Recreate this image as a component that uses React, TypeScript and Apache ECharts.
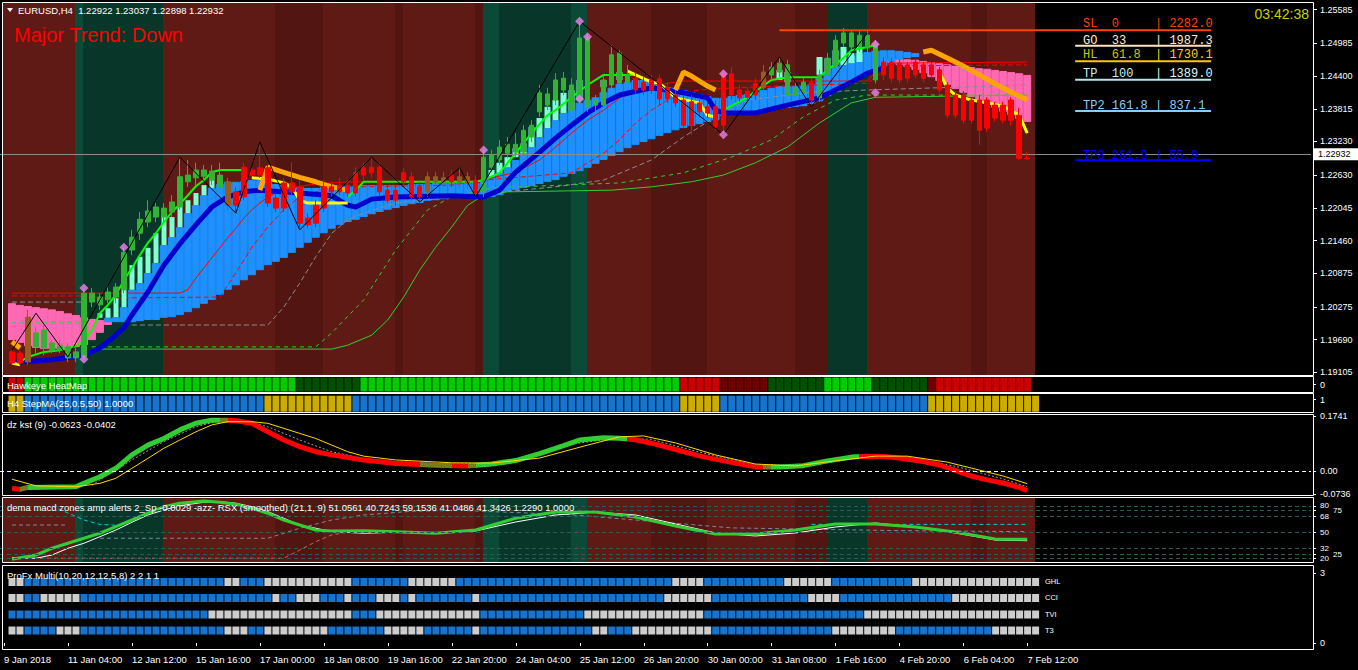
import React, { useEffect, useRef } from "react";
import * as echarts from "echarts";

const FONT = "'Liberation Sans', Arial, sans-serif";
const MONO = "'Liberation Mono', 'DejaVu Sans Mono', monospace";
const NCAT = 164;

// ---------- axes ----------
const timeTickBars = [-1, 7, 15, 23, 31, 39, 47, 55, 63, 71, 79, 87, 95, 103, 111, 119, 127];
const timeTickLabels = ["9 Jan 2018", "11 Jan 04:00", "12 Jan 12:00", "15 Jan 16:00", "17 Jan 00:00", "18 Jan 08:00", "19 Jan 16:00", "22 Jan 20:00", "24 Jan 04:00", "25 Jan 12:00", "26 Jan 20:00", "30 Jan 00:00", "31 Jan 08:00", "1 Feb 16:00", "4 Feb 20:00", "6 Feb 04:00", "7 Feb 12:00"];
const priceTicks = [1.25585, 1.24985, 1.244, 1.23815, 1.2323, 1.2263, 1.22045, 1.2146, 1.20875, 1.20275, 1.1969, 1.19105];
const priceMin = 1.19057;
const priceMax = 1.25705;
const lastOHLC = [1.22922, 1.23037, 1.22898, 1.22932];
const lastPrice = 1.22932;

// ---------- candles [open, close, low, high] ----------
const candles = [
  [1.1947, 1.1927, 1.1924, 1.195], [1.1945, 1.1927, 1.1924, 1.195], [1.1929, 1.2009, 1.1924, 1.2022], [1.1956, 1.1981, 1.1945, 1.1991],
  [1.1954, 1.1986, 1.1941, 1.1995], [1.195, 1.1963, 1.1945, 1.1968], [1.195, 1.1959, 1.1945, 1.1968], [1.1936, 1.1956, 1.1929, 1.1963],
  [1.1936, 1.1947, 1.1929, 1.1954], [1.1938, 1.2052, 1.1933, 1.2058], [1.2036, 1.2052, 1.2027, 1.2061], [1.2031, 1.2045, 1.2022, 1.2052],
  [1.204, 1.2054, 1.2034, 1.2066], [1.2045, 1.2063, 1.2034, 1.207], [1.2058, 1.2125, 1.2052, 1.2134], [1.2129, 1.2152, 1.212, 1.2165],
  [1.2159, 1.2184, 1.2147, 1.2197], [1.2179, 1.2199, 1.217, 1.2218], [1.2188, 1.2206, 1.2179, 1.2213], [1.2188, 1.2204, 1.2179, 1.2213],
  [1.2197, 1.2215, 1.2188, 1.2227], [1.2206, 1.226, 1.2201, 1.2295], [1.2251, 1.2263, 1.2242, 1.229], [1.2258, 1.2272, 1.2245, 1.2285],
  [1.2261, 1.2272, 1.2254, 1.2281], [1.2254, 1.227, 1.2245, 1.2281], [1.2242, 1.2263, 1.2236, 1.2285], [1.2251, 1.2209, 1.2201, 1.2258],
  [1.2233, 1.2209, 1.2195, 1.2242], [1.2277, 1.2224, 1.2218, 1.2285], [1.2272, 1.2263, 1.2258, 1.2281], [1.2276, 1.2263, 1.2258, 1.2322],
  [1.2276, 1.2213, 1.2206, 1.2281], [1.2222, 1.2204, 1.2197, 1.2231], [1.2249, 1.2204, 1.2197, 1.2258], [1.2249, 1.2233, 1.2227, 1.2286],
  [1.2242, 1.2177, 1.2168, 1.2254], [1.2186, 1.2174, 1.2168, 1.2195], [1.2209, 1.2177, 1.217, 1.2218], [1.2242, 1.2204, 1.2197, 1.2254],
  [1.2242, 1.2233, 1.2224, 1.2251], [1.2245, 1.2233, 1.2227, 1.2258], [1.2245, 1.2231, 1.2224, 1.2254], [1.2268, 1.2231, 1.2224, 1.2277],
  [1.2276, 1.2263, 1.2254, 1.2285], [1.2277, 1.2267, 1.2258, 1.2295], [1.2277, 1.2233, 1.2224, 1.2285], [1.2236, 1.2218, 1.2213, 1.2245],
  [1.2236, 1.2218, 1.2209, 1.2245], [1.2267, 1.2251, 1.2242, 1.2276], [1.226, 1.2224, 1.2218, 1.2268], [1.2242, 1.2224, 1.2215, 1.2251],
  [1.2233, 1.226, 1.2224, 1.2268], [1.2251, 1.226, 1.2242, 1.2268], [1.2251, 1.2258, 1.2242, 1.2268], [1.2263, 1.2251, 1.2242, 1.2272],
  [1.2251, 1.226, 1.224, 1.2276], [1.2249, 1.226, 1.224, 1.2268], [1.2254, 1.2231, 1.2224, 1.2263], [1.2233, 1.2295, 1.2224, 1.2306],
  [1.2277, 1.2299, 1.2268, 1.2308], [1.229, 1.2313, 1.2281, 1.2326], [1.2302, 1.2318, 1.2293, 1.2331], [1.2304, 1.2318, 1.2295, 1.2338],
  [1.2304, 1.2343, 1.2295, 1.2352], [1.2331, 1.2352, 1.2322, 1.2361], [1.2376, 1.241, 1.2367, 1.2424], [1.2388, 1.2408, 1.2379, 1.2419],
  [1.2397, 1.2433, 1.2388, 1.2445], [1.2415, 1.2436, 1.2406, 1.2447], [1.2379, 1.2424, 1.237, 1.2436], [1.2397, 1.2508, 1.2392, 1.2538],
  [1.2385, 1.2508, 1.2376, 1.2513], [1.2388, 1.2397, 1.2374, 1.2406], [1.2388, 1.2433, 1.2379, 1.2442], [1.2424, 1.2478, 1.2415, 1.2495],
  [1.2427, 1.2481, 1.242, 1.2486], [1.2429, 1.2442, 1.2424, 1.246], [1.2436, 1.2415, 1.2408, 1.2447], [1.2429, 1.2415, 1.2406, 1.2438],
  [1.2433, 1.2415, 1.2408, 1.2442], [1.2435, 1.2399, 1.2388, 1.2442], [1.242, 1.2399, 1.2392, 1.2429], [1.2406, 1.2392, 1.2385, 1.2415],
  [1.2397, 1.2352, 1.2347, 1.2406], [1.2394, 1.2352, 1.2335, 1.2406], [1.2392, 1.2376, 1.2367, 1.2401], [1.2385, 1.2374, 1.2365, 1.2394],
  [1.2385, 1.2349, 1.2343, 1.2397], [1.2445, 1.2352, 1.2338, 1.2451], [1.2444, 1.2406, 1.2397, 1.2456], [1.2415, 1.2401, 1.2394, 1.2424],
  [1.2413, 1.2402, 1.2397, 1.242], [1.2427, 1.2406, 1.2397, 1.2436], [1.2419, 1.2447, 1.2411, 1.246], [1.2442, 1.2456, 1.2433, 1.2465],
  [1.2447, 1.2463, 1.2438, 1.2474], [1.2406, 1.246, 1.2397, 1.2469], [1.2406, 1.242, 1.2401, 1.2429], [1.2411, 1.2429, 1.2402, 1.2436],
  [1.2429, 1.2397, 1.2385, 1.2436], [1.2401, 1.2442, 1.2394, 1.2451], [1.2442, 1.2472, 1.2436, 1.2481], [1.2456, 1.2504, 1.2447, 1.2513],
  [1.2499, 1.2517, 1.2492, 1.2526], [1.2492, 1.2517, 1.2486, 1.2522], [1.2492, 1.2513, 1.2483, 1.2522], [1.249, 1.2513, 1.2481, 1.2522],
  [1.2433, 1.2497, 1.2427, 1.2504], [1.2465, 1.2442, 1.2433, 1.2474], [1.2465, 1.2436, 1.2429, 1.2472], [1.2463, 1.2433, 1.2427, 1.2469],
  [1.246, 1.2436, 1.2429, 1.2465], [1.2465, 1.2442, 1.2436, 1.2469], [1.246, 1.2436, 1.2429, 1.2465], [1.246, 1.2442, 1.2436, 1.2465],
  [1.2451, 1.2415, 1.241, 1.2456], [1.2424, 1.237, 1.2365, 1.2429], [1.2406, 1.237, 1.2365, 1.2413], [1.2406, 1.2361, 1.2355, 1.2413],
  [1.2397, 1.2361, 1.2355, 1.2402], [1.2397, 1.2343, 1.2317, 1.2406], [1.2397, 1.2347, 1.234, 1.2402], [1.2388, 1.2365, 1.2358, 1.2394],
  [1.2388, 1.2361, 1.2355, 1.2394], [1.2397, 1.2361, 1.2352, 1.2402], [1.237, 1.2293, 1.229, 1.2383], [1.22922, 1.22932, 1.22898, 1.23037],
];
const candleColorRuns: [string, number][] = [["r", 2], ["b", 1], ["g", 24], ["b", 1], ["r", 24], ["b", 3], ["r", 1], ["b", 2], ["r", 1], ["g", 19], ["r", 16], ["b", 1], ["g", 5], ["r", 1], ["g", 8], ["r", 19]];

// ---------- cloud bands [bar, top, bottom] ----------
const pinkCloud = [
  [0, 1.2034, 1.1968], [1, 1.2031, 1.1963], [2, 1.2029, 1.1957], [3, 1.2027, 1.1954], [4, 1.2025, 1.1952], [5, 1.2023, 1.1952], [6, 1.202, 1.1952],
  [7, 1.2016, 1.1954], [8, 1.2013, 1.1956], [9, 1.2009, 1.1959], [10, 1.2006, 1.1968], [11, 1.2004, 1.1981], [12, 1.2002, 1.1995],
  [110, 1.2472, 1.2463], [111, 1.2472, 1.246], [112, 1.247, 1.2456], [113, 1.2469, 1.2451], [114, 1.2467, 1.2445], [115, 1.2465, 1.2438],
  [116, 1.2463, 1.2431], [117, 1.2461, 1.2424], [118, 1.246, 1.2417], [119, 1.2458, 1.241], [120, 1.2456, 1.2402], [121, 1.2454, 1.2397],
  [122, 1.2453, 1.239], [123, 1.2451, 1.2383], [124, 1.2449, 1.2376], [125, 1.2447, 1.237], [126, 1.2445, 1.2363], [127, 1.2442, 1.2358],
];
const blueCloud = [
  [12, 1.2008, 1.2], [13, 1.2009, 1.2], [14, 1.2027, 1.2], [15, 1.2058, 1.2], [16, 1.207, 1.2002], [17, 1.2088, 1.2004], [18, 1.2106, 1.2004],
  [19, 1.2138, 1.2008], [20, 1.2152, 1.2009], [21, 1.217, 1.2013], [22, 1.2195, 1.2018], [23, 1.2209, 1.2025], [24, 1.2227, 1.2033],
  [25, 1.224, 1.204], [26, 1.2247, 1.2049], [27, 1.2251, 1.2058], [28, 1.2251, 1.2066], [29, 1.2252, 1.2075], [30, 1.2254, 1.2084],
  [31, 1.2254, 1.2093], [32, 1.2251, 1.2102], [33, 1.2247, 1.2108], [34, 1.2245, 1.2115], [35, 1.2242, 1.2124], [36, 1.2242, 1.2133],
  [37, 1.224, 1.2142], [38, 1.224, 1.2151], [39, 1.2242, 1.2159], [40, 1.2242, 1.2167], [41, 1.2243, 1.2174], [42, 1.2243, 1.2179],
  [43, 1.2243, 1.2183], [44, 1.2245, 1.2188], [45, 1.2245, 1.2193], [46, 1.2245, 1.2197], [47, 1.2245, 1.2201], [48, 1.2245, 1.2204],
  [49, 1.2245, 1.2208], [50, 1.2247, 1.2211], [51, 1.2247, 1.2213], [52, 1.2247, 1.2217], [53, 1.2249, 1.2218], [54, 1.2249, 1.222],
  [55, 1.2249, 1.2222], [56, 1.2249, 1.2222], [57, 1.2249, 1.2222], [58, 1.2249, 1.2222], [59, 1.2254, 1.2222], [60, 1.226, 1.2224],
  [61, 1.2267, 1.2227], [62, 1.2277, 1.2233], [63, 1.229, 1.2236], [64, 1.2304, 1.224], [65, 1.2313, 1.2243], [66, 1.2331, 1.2247],
  [67, 1.2347, 1.2251], [68, 1.2361, 1.2254], [69, 1.2374, 1.226], [70, 1.2379, 1.2265], [71, 1.2392, 1.227], [72, 1.2397, 1.2276],
  [73, 1.2402, 1.2283], [74, 1.2411, 1.229], [75, 1.2419, 1.2297], [76, 1.2426, 1.2304], [77, 1.2429, 1.2311], [78, 1.2433, 1.2317],
  [79, 1.2433, 1.2322], [80, 1.2429, 1.2327], [81, 1.2424, 1.2333], [82, 1.242, 1.2338], [83, 1.2419, 1.2343], [84, 1.2415, 1.2347],
  [85, 1.2411, 1.2351], [86, 1.2408, 1.2354], [87, 1.2404, 1.2358], [88, 1.2401, 1.2361], [89, 1.2401, 1.2369], [90, 1.2404, 1.237],
  [91, 1.2406, 1.2372], [92, 1.2408, 1.2374], [93, 1.2411, 1.2376], [94, 1.2415, 1.2377], [95, 1.2419, 1.2379], [96, 1.2422, 1.2381],
  [97, 1.2422, 1.2383], [98, 1.2422, 1.2385], [99, 1.2422, 1.2386], [100, 1.2426, 1.239], [101, 1.2436, 1.2395], [102, 1.2447, 1.2404],
  [103, 1.2458, 1.2411], [104, 1.2469, 1.242], [105, 1.2476, 1.2427], [106, 1.2481, 1.2436], [107, 1.2483, 1.2444], [108, 1.2485, 1.2451],
  [109, 1.2486, 1.2458], [110, 1.2486, 1.2465], [111, 1.2485, 1.2469], [112, 1.2483, 1.2472], [113, 1.2481, 1.2474],
];
const aquaBars = [
  [11, 1.2016, 1.2008], [12, 1.2025, 1.2008], [13, 1.2043, 1.2009], [14, 1.2058, 1.2027], [15, 1.2102, 1.2058], [16, 1.2117, 1.207],
  [17, 1.2133, 1.2088], [18, 1.2159, 1.2106], [19, 1.2188, 1.2138], [20, 1.2188, 1.2152], [21, 1.2206, 1.217], [22, 1.2218, 1.2195],
  [23, 1.2231, 1.2209], [24, 1.2245, 1.2227], [25, 1.2254, 1.224], [60, 1.2272, 1.226], [61, 1.2285, 1.2267], [62, 1.2295, 1.2277],
  [63, 1.2311, 1.2295], [64, 1.232, 1.2302], [65, 1.2349, 1.2313], [66, 1.2365, 1.2331], [67, 1.2385, 1.2347], [68, 1.2397, 1.2361],
  [69, 1.241, 1.2374], [70, 1.2415, 1.2379], [71, 1.2433, 1.2397], [74, 1.2433, 1.242], [76, 1.2447, 1.2433], [96, 1.2451, 1.2433],
  [97, 1.2447, 1.2429], [101, 1.2474, 1.2442], [102, 1.2472, 1.2447], [103, 1.2486, 1.246], [104, 1.2492, 1.246], [105, 1.2481, 1.2463],
  [106, 1.2492, 1.2465],
];

// ---------- indicator lines [bar, price] ----------
const blueMA = [[0, 1.1927], [1, 1.1929], [5, 1.1933], [9, 1.1941], [11, 1.1954], [12, 1.1965], [14, 1.199], [15, 1.2013], [17, 1.2054], [19, 1.2102], [21, 1.214], [23, 1.2174], [25, 1.2206], [27, 1.2224], [29, 1.2233], [31, 1.2236], [36, 1.2231], [40, 1.2226], [42, 1.2209], [43, 1.2206], [45, 1.222], [48, 1.2224], [55, 1.2226], [59, 1.2224], [61, 1.2236], [63, 1.2268], [66, 1.2304], [68, 1.2329], [70, 1.2352], [72, 1.2374], [74, 1.2392], [76, 1.2406], [80, 1.2419], [84, 1.241], [87, 1.2401], [88, 1.2379], [89, 1.2374], [93, 1.2374], [97, 1.2388], [101, 1.2401], [103, 1.2415], [105, 1.2429], [107, 1.2445], [109, 1.2454]];
const redLine = [[0, 1.2052], [21, 1.2052], [22, 1.2058], [23, 1.2079], [24, 1.2097], [25, 1.2115], [26, 1.2133], [27, 1.2151], [28, 1.2168], [29, 1.2186], [30, 1.2201], [31, 1.2213], [32, 1.2224], [33, 1.2231], [34, 1.2236], [36, 1.2243], [38, 1.2247], [42, 1.2251], [58, 1.2251], [60, 1.2258], [63, 1.2268], [66, 1.229], [68, 1.2313], [70, 1.2338], [72, 1.2361], [74, 1.2379], [76, 1.2401], [78, 1.2411], [80, 1.2419], [82, 1.2427], [84, 1.2431], [107, 1.2431], [108, 1.2447], [110, 1.2463], [127, 1.2465]];
const redDash = [[0, 1.2047], [9, 1.2047], [10, 1.2043], [26, 1.2045], [28, 1.2088], [30, 1.2134], [32, 1.217], [34, 1.2201], [36, 1.2224], [38, 1.2233], [40, 1.224], [44, 1.2242], [55, 1.2245], [59, 1.2254], [70, 1.2267], [72, 1.2285], [74, 1.2302], [76, 1.2326], [78, 1.2356], [80, 1.2379], [82, 1.2397], [84, 1.241], [86, 1.2415], [92, 1.242], [107, 1.2427], [110, 1.2458], [127, 1.246]];
const grayDashA = [[0, 1.2036], [9, 1.2036]];
const grayDashB = [[15, 1.1995], [32, 1.1995], [34, 1.2027], [36, 1.207], [38, 1.2117], [40, 1.2159], [42, 1.2183], [44, 1.2195], [48, 1.2213], [55, 1.2224], [68, 1.2242], [74, 1.2254], [80, 1.229], [84, 1.2331], [88, 1.2367], [92, 1.2397], [100, 1.2411], [107, 1.2415], [127, 1.2424]];
const greenDashA = [[0, 1.1999], [9, 1.1999]];
const greenDashB = [[10, 1.1956], [38, 1.1956], [40, 1.1981], [44, 1.204], [48, 1.2129], [52, 1.2201], [55, 1.2224], [60, 1.224], [76, 1.2249], [84, 1.2267], [90, 1.2295], [95, 1.2326], [99, 1.2367], [103, 1.2397], [107, 1.2406], [127, 1.2406]];
const greenThin = [[10, 1.1952], [40, 1.1952], [42, 1.1959], [45, 1.1977], [47, 1.2004], [49, 1.2045], [51, 1.2093], [53, 1.2134], [55, 1.217], [57, 1.2209], [59, 1.2227], [62, 1.2233], [75, 1.2236], [80, 1.2242], [85, 1.2251], [89, 1.2263], [93, 1.2285], [97, 1.2313], [101, 1.2356], [105, 1.2392], [108, 1.2402], [127, 1.2406]];
const zigzag = [[0, 1.195], [3, 1.2016], [7, 1.1938], [21, 1.2295], [28, 1.2195], [31, 1.2322], [36, 1.2165], [45, 1.2295], [51, 1.2215], [56, 1.2276], [58, 1.2224], [71, 1.2538], [89, 1.2335], [96, 1.2474], [100, 1.2385], [107, 1.2517]];
const diamonds = [[9, 1.2061], [9, 1.1934], [14, 1.2134], [59, 1.2308], [71, 1.2538], [71, 1.2399], [72, 1.251], [89, 1.2444], [89, 1.2335], [108, 1.2497], [108, 1.241]];
const limeA = [[1, 1.1929], [2, 1.1938], [4, 1.1947], [6, 1.195], [8, 1.1957], [9, 1.1966], [10, 1.1986], [11, 1.2016], [12, 1.2031], [13, 1.2049], [14, 1.2075], [15, 1.2097], [16, 1.212], [17, 1.2142], [18, 1.2159], [19, 1.2179], [20, 1.2197], [21, 1.2211], [22, 1.2227], [23, 1.2243], [24, 1.2254], [25, 1.2268], [26, 1.2272], [29, 1.2272]];
const limeB = [[42, 1.2224], [43, 1.2236], [44, 1.2251], [58, 1.2251], [59, 1.2254], [61, 1.2267], [62, 1.2285], [63, 1.2302], [65, 1.2338], [67, 1.237], [68, 1.2379], [70, 1.2402], [72, 1.2424], [74, 1.2442], [78, 1.2442]];
const limeC = [[89, 1.2379], [92, 1.2402], [95, 1.2433], [97, 1.2438], [101, 1.2438], [102, 1.2451], [104, 1.2472], [105, 1.2486], [107, 1.2492], [108, 1.2495]];
const yellowA = [[0, 1.1927], [1, 1.1924]];
const yellowB = [[30, 1.2258], [32, 1.2256], [34, 1.2249], [35, 1.2242], [36, 1.2218], [37, 1.2213], [42, 1.2213]];
const yellowC = [[77, 1.2449], [78, 1.2442], [80, 1.2429], [81, 1.2427], [82, 1.2415], [83, 1.2401], [86, 1.2392], [87, 1.237], [88, 1.2367]];
const yellowD = [[116, 1.2447], [117, 1.2419], [118, 1.2406], [120, 1.2397], [122, 1.2392], [124, 1.2386], [126, 1.237], [127, 1.2338]];
const orangeA = [[0, 1.1965], [1, 1.1954]];
const orangeB = [[31, 1.2236], [32, 1.2277], [34, 1.2268], [36, 1.2259], [38, 1.2251], [40, 1.2242], [42, 1.2236]];
const orangeC = [[83, 1.2415], [84, 1.2447], [85, 1.244], [86, 1.2431], [87, 1.2422], [88, 1.2415]];
const orangeD = [[114, 1.2483], [115, 1.2486], [117, 1.2472], [119, 1.2458], [121, 1.2442], [123, 1.2426], [125, 1.2411], [127, 1.2397]];

// ---------- fib levels ----------
const fibNames = ["SL  0     ", "GO  33    ", "HL  61.8  ", "TP  100   ", "TP2 161.8 ", "TP3 261.8 "];
const fibPips = ["2282.0", "1987.3", "1730.1", "1389.0", "837.1", "55.9"];
const fibPrices = [1.25217, 1.24941, 1.24663, 1.24334, 1.23774, 1.22893];

// ---------- background bands ----------
const bandRuns: [string, number][] = [["R", 9], ["L", 1], ["G", 10], ["R", 14], ["D", 6], ["R", 9], ["D", 1], ["R", 9], ["D", 1], ["L", 2], ["G", 9], ["L", 2], ["R", 8], ["D", 7], ["R", 11], ["D", 4], ["G", 5], ["R", 13], ["D", 2], ["R", 6]];

// ---------- sub panels ----------
const heatRuns: [string, number][] = [["R", 2], ["G", 34], ["g", 8], ["G", 40], ["R", 5], ["r", 6], ["g", 7], ["G", 6], ["g", 7], ["r", 1], ["R", 12]];
const stepRuns: [string, number][] = [["Y", 2], ["B", 30], ["Y", 11], ["B", 41], ["Y", 5], ["B", 26], ["Y", 14]];

const kstMain = [[0, -0.055], [1, -0.058], [2, -0.052], [8, -0.05], [9, -0.039], [11, -0.018], [13, 0.0085], [15, 0.051], [17, 0.082], [19, 0.103], [21, 0.13], [23, 0.151], [25, 0.161], [27, 0.161], [28, 0.159], [30, 0.151], [32, 0.124], [34, 0.098], [36, 0.077], [38, 0.061], [40, 0.051], [44, 0.035], [48, 0.024], [53, 0.018], [57, 0.016], [60, 0.022], [63, 0.033], [66, 0.055], [69, 0.08], [71, 0.098], [74, 0.105], [76, 0.104], [78, 0.099], [80, 0.088], [83, 0.068], [86, 0.048], [89, 0.032], [93, 0.013], [96, 0.013], [99, 0.017], [102, 0.032], [105, 0.044], [107, 0.047], [109, 0.046], [111, 0.041], [114, 0.03], [116, 0.019], [118, 0.002], [120, -0.016], [122, -0.028], [124, -0.038], [126, -0.052], [127, -0.0623]];
const kstColorRuns: [string, number][] = [["r", 1], ["o", 1], ["g", 24], ["o", 1], ["r", 24], ["o", 4], ["r", 2], ["o", 1], ["g", 19], ["r", 17], ["o", 1], ["g", 11], ["r", 22]];
const kstSignal = [[0, -0.026], [3, -0.047], [8, -0.05], [11, -0.039], [13, -0.023], [15, 0.0085], [17, 0.04], [19, 0.072], [21, 0.098], [23, 0.124], [25, 0.146], [27, 0.156], [30, 0.156], [32, 0.151], [34, 0.135], [36, 0.119], [38, 0.103], [40, 0.082], [42, 0.061], [44, 0.047], [48, 0.035], [55, 0.026], [60, 0.025], [66, 0.041], [72, 0.082], [76, 0.108], [79, 0.111], [83, 0.089], [88, 0.051], [93, 0.022], [98, 0.016], [103, 0.032], [108, 0.047], [112, 0.047], [117, 0.028], [121, 0.003], [124, -0.016], [127, -0.0402]];
const kstAvg = [[10, -0.045], [11, -0.028], [15, 0.035], [19, 0.093], [23, 0.14], [26, 0.16], [29, 0.16], [32, 0.14], [36, 0.098], [40, 0.061], [44, 0.04], [48, 0.03], [55, 0.022], [63, 0.028], [70, 0.085], [76, 0.106], [80, 0.1], [86, 0.06], [93, 0.018], [100, 0.018], [106, 0.042], [112, 0.044], [118, 0.015], [124, -0.025], [127, -0.05]];

const rsxGreen = [[0, 19.2], [3, 24.1], [5, 31.8], [7, 37.5], [9, 43.2], [11, 48.9], [13, 56.4], [15, 64], [17, 71.7], [19, 79.2], [21, 83.1], [24, 85.7], [26, 84.2], [28, 81.9], [30, 77.4], [32, 71.7], [34, 64], [36, 58.3], [38, 52.6], [40, 51.5], [44, 51.8], [48, 50.7], [53, 48.9], [58, 52.6], [63, 66], [68, 73], [73, 73], [78, 67.4], [83, 57.2], [88, 48], [93, 48], [98, 52.6], [103, 59.5], [108, 59.5], [113, 56], [118, 50.3], [123, 42.4], [127, 42]];
const rsxWhite = [[0, 21], [3, 20.4], [5, 24.1], [7, 31.8], [9, 37.5], [11, 45], [13, 52.6], [15, 61.4], [17, 69.7], [19, 75.4], [21, 80.3], [24, 84.2], [26, 84.9], [28, 83.1], [30, 79.2], [32, 73.5], [34, 66], [36, 58.3], [38, 54.6], [40, 50.7], [44, 48.9], [48, 50], [53, 48.9], [58, 51.5], [63, 61.7], [68, 69.7], [73, 73], [78, 69.7], [83, 59.5], [88, 49.2], [93, 45.8], [98, 49.2], [103, 56], [108, 60.6], [113, 56], [118, 49.2], [123, 41.2], [127, 40.4]];
const rsxCyanA = [[5, 80], [7, 72], [9, 64], [11, 59], [13, 58]];
const rsxCyanB = [[100, 59], [127, 59]];
const rsxSlateA = [[0, 58.3], [7, 58.3]];
const rsxSlateB = [[11, 43.2], [32, 43.2], [36, 54.6], [40, 64], [44, 69.7], [50, 74], [56, 75], [70, 70], [90, 55], [110, 52], [127, 50.7]];
const rsxSalmon = [[0, 20.4], [34, 20.4], [36, 29.8], [38, 39.3], [40, 47], [42, 50]];
const rsxLevels = [80, 75, 68, 50, 32, 25, 20];
const rsxLabelsA = [80, 68, 50, 32, 20];
const rsxLabelsB = [75, 25];

const profxNames = ["GHL", "CCI", "TVI", "T3"];
const profxRuns: [string, number][][] = [
  [["W", 2], ["B", 25], ["W", 2], ["B", 3], ["W", 11], ["B", 7], ["W", 6], ["B", 27], ["W", 4], ["B", 10], ["W", 6], ["B", 10], ["W", 16]],
  [["W", 2], ["B", 2], ["W", 5], ["B", 24], ["W", 1], ["B", 2], ["W", 3], ["B", 3], ["W", 1], ["B", 3], ["W", 3], ["B", 1], ["W", 1], ["B", 7], ["W", 1], ["B", 23], ["W", 6], ["B", 12], ["W", 4], ["B", 14], ["W", 11]],
  [["B", 25], ["W", 18], ["B", 3], ["W", 13], ["B", 13], ["W", 15], ["B", 20], ["W", 22]],
  [["W", 2], ["B", 4], ["W", 3], ["B", 18], ["W", 3], ["B", 2], ["W", 8], ["B", 7], ["W", 5], ["B", 6], ["W", 1], ["B", 14], ["W", 2], ["B", 3], ["W", 10], ["B", 15], ["W", 8], ["B", 12], ["W", 6]],
];

// ---------- colours ----------
const BAND_COLORS: Record<string, string> = { R: "#5f1a16", D: "#521511", G: "#083628", L: "#0b4a36" };
const CANDLE_COLORS: Record<string, string> = { g: "#32b432", r: "#ff0000", b: "#9a5b1e" };
const HEAT_COLORS: Record<string, string> = { R: "#ff0000", G: "#00ff00", g: "#006400", r: "#8b0000" };
const STEP_COLORS: Record<string, string> = { Y: "#ffd700", B: "#1e90ff" };
const KST_COLORS: Record<string, string> = { g: "#32cd32", r: "#ff0000", o: "#7a7a1e" };
const PROFX_COLORS: Record<string, string> = { W: "#ffffff", B: "#1e90ff" };
const FIB_COLORS = [["#ff4500", "#ff4500"], ["#ffe8d0", "#ffe8d0"], ["#c8c800", "#ffd000"], ["#c4f0f0", "#d8f8f8"], ["#87cefa", "#87cefa"], ["#0000ff", "#0000ff"]];
const FIB_LINE_COLORS = ["#ff4500", "#ffe4c4", "#ffc800", "#b0e8f0", "#87cefa", "#0000ff"];

function buildOption() {
  const expand = (runs: [string, number][]) => runs.flatMap(([k, n]) => Array(n).fill(k));
  const xy = (pts: number[][]) => pts.map(([i, v]) => [i + 1, v]);
  const cats = Array.from({ length: NCAT }, (_, k) => String(k));
  const tickMap: Record<number, string> = {};
  timeTickBars.forEach((b, k) => (tickMap[b + 1] = timeTickLabels[k]));

  // 8 px per bar, all edges on whole pixels
  const W = NCAT * 8;
  const gridDefs = [
    { left: 3, top: 3, width: W, height: 372 },
    { left: -1, top: 3, width: W, height: 372 },
    { left: -0.5, top: 377, width: W, height: 15 },
    { left: -0.5, top: 394, width: W, height: 18 },
    { left: -1, top: 416, width: W, height: 78.25 },
    { left: 3, top: 497, width: W, height: 66 },
    { left: -1, top: 497, width: W, height: 66 },
    { left: -0.5, top: 565, width: W, height: 85 },
  ];
  const axisX = 1313;
  const hidden = { show: false };
  const xAxis = gridDefs.map((_, g) => {
    const ax: any = { type: "category", gridIndex: g, data: cats, boundaryGap: true, axisLine: hidden, axisTick: hidden, axisLabel: hidden, splitLine: hidden };
    if (g === 7) {
      const iv = (idx: number) => tickMap[idx] !== undefined;
      ax.axisTick = { show: true, alignWithLabel: true, interval: iv, length: 3, lineStyle: { color: "#fff" } };
      ax.axisLabel = { show: true, interval: iv, formatter: (_v: string, idx: number) => tickMap[idx] || "", color: "#fff", fontSize: 9.5, fontFamily: FONT, align: "left", margin: 4 };
    }
    return ax;
  });
  const yLab = (vals: number[], fmt: (v: number) => string, size = 9, margin = 7) => ({
    axisTick: { show: true, customValues: vals, length: 3, lineStyle: { color: "#fff" } },
    axisLabel: { show: true, customValues: vals, formatter: fmt, color: "#fff", fontSize: size, fontFamily: FONT, margin, hideOverlap: false, showMinLabel: true, showMaxLabel: true },
  });
  const yBase = (g: number, min: number, max: number) => ({
    type: "value", gridIndex: g, min, max, position: "right",
    offset: axisX - (gridDefs[g].left + W),
    axisLine: hidden, axisTick: hidden, axisLabel: hidden, splitLine: hidden,
  });
  const yAxis: any[] = [
    yBase(0, 0, 1),
    { ...yBase(1, priceMin, priceMax), ...yLab(priceTicks, (v) => v.toFixed(5)), axisTick: { show: true, customValues: priceTicks, length: 4, lineStyle: { color: "#fff" } } },
    { ...yBase(2, -1, 1), ...yLab([0], () => "0") },
    { ...yBase(3, -1.05, 1.95), ...yLab([1, 0], (v) => String(v)) },
    { ...yBase(4, -0.0736, 0.1741), ...yLab([0.1741, 0, -0.0736], (v) => (v === 0 ? "0.00" : v.toFixed(4))) },
    yBase(5, 0, 1),
    { ...yBase(6, 15, 90.2), ...yLab(rsxLabelsA, (v) => String(v), 8) },
    { ...yBase(7, -0.3, 3.343), ...yLab([3, 0], (v) => String(v)) },
    { ...yBase(6, 15, 90.2), ...yLab(rsxLabelsB, (v) => String(v), 8, 20) },
  ];

  const series: any[] = [];
  const bandCodes = expand(bandRuns);
  [0, 5].forEach((g) =>
    series.push({ type: "bar", xAxisIndex: g, yAxisIndex: g, barWidth: "100%", silent: true, z: 0, data: bandCodes.map((k) => ({ value: 1, itemStyle: { color: BAND_COLORS[k] } })) })
  );
  // clouds: stacked histogram bars (transparent base up to the cloud bottom + coloured part up to the top)
  const cloud = (rows: number[][], color: string, stack: string) => {
    const base: any[] = Array(NCAT).fill("-");
    const part: any[] = Array(NCAT).fill("-");
    rows.forEach(([i, hi, lo]) => {
      base[i + 1] = lo;
      part[i + 1] = +(hi - lo).toFixed(6);
    });
    const common = { type: "bar", xAxisIndex: 1, yAxisIndex: 1, stack, barWidth: "100%", barGap: "-100%", silent: true, z: 1 };
    return [
      { ...common, data: base, itemStyle: { color: "rgba(0,0,0,0)", borderWidth: 0 } },
      { ...common, data: part, itemStyle: { color, borderColor: color, borderWidth: 1 } },
    ];
  };
  const boxes = (rows: number[][], color: string, width: number, z: number) => ({
    type: "candlestick", xAxisIndex: 1, yAxisIndex: 1, barWidth: width, silent: true, z,
    encode: { x: 0, y: [1, 2, 3, 4] },
    itemStyle: { color, color0: color, borderColor: color, borderColor0: color, borderWidth: 0 },
    data: rows.map(([i, hi, lo]) => [i + 1, lo, hi, lo, hi]),
  });
  const line = (pts: number[][], color: string | null, width: number, z: number, type: any = "solid", g = 1) => {
    const ls: any = { width, type, cap: "butt" };
    if (color) ls.color = color;
    return { type: "line", xAxisIndex: g, yAxisIndex: g, data: xy(pts), symbol: "none", silent: true, z, lineStyle: ls };
  };
  series.push(...cloud(pinkCloud, "#ff69b4", "pink"));
  series.push(...cloud(blueCloud, "#1e90ff", "blue"));
  series.push(line(grayDashA, "#8c8c8c", 1, 2, [5, 3]));
  series.push(line(grayDashB, "#8c8c8c", 1, 2, [5, 3]));
  series.push(line(greenDashA, "#32cd32", 1, 2, [4, 4]));
  series.push(line(greenDashB, "#32cd32", 1, 2, [4, 4]));
  series.push(line(greenThin, "#32cd32", 1, 2));
  series.push(line(redDash, "#ff0000", 1, 2, [5, 3]));
  series.push(line(redLine, "#ff0000", 1, 2));
  series.push(boxes(aquaBars, "#7fffd4", 6, 3));
  series.push(line(blueMA, "#0000cd", 5, 3));
  series.push(line(limeA, "#00ff00", 2, 4));
  series.push(line(limeB, "#00ff00", 2, 4));
  series.push(line(limeC, "#00ff00", 2, 4));
  series.push(line(yellowA, "#ffff00", 3, 4));
  series.push(line(yellowB, "#ffff00", 3, 4));
  series.push(line(yellowC, "#ffff00", 3, 4));
  series.push(line(yellowD, "#ffff00", 3, 4));
  series.push(line(orangeA, "#ffa500", 5, 4));
  series.push(line(orangeB, "#ffa500", 5, 4));
  series.push(line(orangeC, "#ffa500", 5, 4));
  series.push(line(orangeD, "#ffa500", 5, 4));
  const cCodes = expand(candleColorRuns);
  series.push({
    type: "candlestick", xAxisIndex: 1, yAxisIndex: 1, barWidth: 5, silent: true, z: 5,
    encode: { x: 0, y: [1, 2, 3, 4] },
    data: candles.map((d, i) => {
      const col = CANDLE_COLORS[cCodes[i]];
      return { value: [i + 1, ...d], itemStyle: { color: col, color0: col, borderColor: col, borderColor0: col, borderWidth: 1 } };
    }),
    markLine: {
      silent: true, symbol: "none", animation: false,
      data: [{ yAxis: lastPrice }],
      lineStyle: { color: "#8c8c8c", width: 1, type: "solid" },
      label: { show: true, position: "end", formatter: lastPrice.toFixed(5), backgroundColor: "#ffffff", color: "#000", fontSize: 9, fontFamily: FONT, padding: [2, 8, 1, 4], distance: 3 },
    },
  });
  series.push(line(zigzag, "#000000", 1, 6));
  series.push({ type: "scatter", xAxisIndex: 1, yAxisIndex: 1, symbol: "diamond", symbolSize: 9, silent: true, z: 7, itemStyle: { color: "#ee82ee" }, data: xy(diamonds) });
  fibPrices.forEach((p, k) => {
    const from = k === 0 ? 96 : 133;
    series.push(line([[from, p], [150, p]], FIB_LINE_COLORS[k], 2, 6));
  });
  series.push({ type: "scatter", xAxisIndex: 2, yAxisIndex: 2, symbol: "rect", symbolSize: [7, 14], silent: true, z: 2, data: expand(heatRuns).map((k, i) => ({ value: [i + 1, 0], itemStyle: { color: HEAT_COLORS[k] } })) });
  series.push({ type: "scatter", xAxisIndex: 3, yAxisIndex: 3, symbol: "rect", symbolSize: [7, 16], silent: true, z: 2, data: expand(stepRuns).map((k, i) => ({ value: [i + 1, 0.33], itemStyle: { color: STEP_COLORS[k] } })) });
  // KST
  series.push(line(kstAvg, "#a0a0a0", 1, 2, [2, 2], 4));
  const kstIndex = series.length;
  series.push(line(kstMain, null, 5, 3, "solid", 4));
  series.push({
    ...line(kstSignal, "#ffd700", 1, 4, "solid", 4),
    markLine: { silent: true, symbol: "none", data: [{ yAxis: 0 }], label: { show: false }, lineStyle: { color: "#ffffff", width: 1, type: [4, 3] } },
  });
  // RSX panel
  series.push({
    ...line(rsxSlateA, "#7a8a9a", 1, 2, [4, 3], 6),
    markLine: { silent: true, symbol: "none", label: { show: false }, lineStyle: { color: "#2f5a5a", width: 1, type: [4, 3] }, data: rsxLevels.map((v) => ({ yAxis: v })) },
  });
  series.push(line(rsxSlateB, "#7a8a9a", 1, 2, [4, 3], 6));
  series.push(line(rsxSalmon, "#d06060", 1, 2, [4, 3], 6));
  series.push(line(rsxCyanA, "#00ced1", 1, 2, [4, 3], 6));
  series.push(line(rsxCyanB, "#00ced1", 1, 2, [4, 3], 6));
  series.push(line(rsxWhite, "#ffffff", 1, 3, "solid", 6));
  series.push(line(rsxGreen, "#32cd32", 3, 4, "solid", 6));
  // ProFx
  const rowVals = [2.614, 1.928, 1.221, 0.535];
  profxRuns.forEach((runs, r) => {
    series.push({ type: "scatter", xAxisIndex: 7, yAxisIndex: 7, symbol: "rect", symbolSize: [7, 8], silent: true, z: 2, data: expand(runs).map((k, i) => ({ value: [i + 1, rowVals[r]], itemStyle: { color: PROFX_COLORS[k] } })) });
  });

  const pieces: any[] = [];
  let start = 1;
  kstColorRuns.forEach(([k, n]) => {
    pieces.push({ gte: start - 0.5, lt: start + n - 0.5, color: KST_COLORS[k] });
    start += n;
  });
  pieces[0].gte = -10;
  pieces[pieces.length - 1].lt = 1000;

  const txt = (text: string, x: number, y: number, fill: string, size: number, family = FONT, align = "left") => ({
    type: "text", x, y, z: 100, silent: true,
    style: { text, fill, fontSize: size, fontFamily: family, align, verticalAlign: "middle" },
  });
  const rect = (x: number, y: number, w: number, h: number) => ({ type: "rect", z: 99, silent: true, shape: { x, y, width: w, height: h }, style: { fill: "none", stroke: "#ffffff", lineWidth: 1 } });
  const fibY = [24.3, 40.7, 55, 74, 105.7, 155.7];
  const graphics: any[] = [
    rect(2.5, 2.5, 1311, 373),
    rect(2.5, 376.5, 1311, 16),
    rect(2.5, 393.5, 1311, 19),
    rect(2.5, 414.5, 1311, 81),
    rect(2.5, 497.5, 1311, 65),
    rect(2.5, 565.5, 1311, 84),
    { type: "polygon", z: 100, silent: true, shape: { points: [[7, 8], [13, 8], [10, 12]] }, style: { fill: "#ffffff" } },
    txt("EURUSD,H4  " + lastOHLC.map((v) => v.toFixed(5)).join(" "), 18, 10.5, "#ffffff", 9.5),
    txt("Major Trend: Down", 14, 35, "#ff0000", 20),
    txt("03:42:38", 1309, 14, "#c8d200", 14, FONT, "right"),
    txt("Hawkeye HeatMap", 7, 385, "#ffffff", 9.5),
    txt("H4 StepMA(25,0.5,50) 1.0000", 7, 403.5, "#ffffff", 9.5),
    txt("dz kst (9) -0.0623 -0.0402", 7, 424, "#ffffff", 9.5),
    txt("dema macd zones amp alerts 2_Sp -0.0029 -azz- RSX (smoothed) (21,1, 9) 51.0561 40.7243 59.1536 41.0486 41.3426 1.2290 1.0000", 7, 507, "#ffffff", 9.5),
    txt("ProFx Multi(10,20,12,12,5,8) 2 2 1 1", 7, 575, "#ffffff", 9.5),
  ];
  profxNames.forEach((n, r) => graphics.push(txt(n, 1045, [581, 597, 614, 630][r], "#ffffff", 7.5)));
  fibNames.forEach((n, k) => {
    graphics.push(txt(n, 1083, fibY[k], FIB_COLORS[k][0], 12, MONO));
    graphics.push(txt("| " + fibPips[k], 1083 + 72, fibY[k], FIB_COLORS[k][1], 12, MONO));
  });

  return {
    animation: false,
    backgroundColor: "#000000",
    grid: gridDefs,
    xAxis,
    yAxis,
    visualMap: [{ type: "piecewise", show: false, seriesIndex: kstIndex, dimension: 0, pieces }],
    series,
    graphic: { elements: graphics },
  };
}

export default function App() {
  const ref = useRef<HTMLDivElement>(null);
  useEffect(() => {
    const chart = echarts.init(ref.current!, null, { renderer: "svg" });
    chart.setOption(buildOption() as any);
    return () => chart.dispose();
  }, []);
  return <div ref={ref} style={{ position: "fixed", left: 0, top: 0, width: 1358, height: 670, background: "#000" }} />;
}
